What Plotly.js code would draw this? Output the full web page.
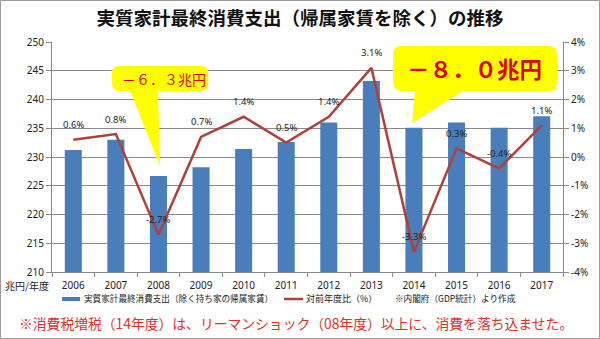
<!DOCTYPE html>
<html>
<head>
<meta charset="utf-8">
<script src="https://cdn.plot.ly/plotly-3.0.1.min.js"></script>
<style>
html,body{margin:0;padding:0;background:#fff;}
#chart{width:600px;height:339px;}
</style>
</head>
<body>
<div id="chart"></div>
<script>
// ---- data ----
var years = ['2006','2007','2008','2009','2010','2011','2012','2013','2014','2015','2016','2017'];
var consumption = [231.2, 233.0, 226.7, 228.2, 231.4, 232.6, 236.0, 243.2, 235.1, 236.0, 235.1, 237.1];
var yoyPct = [0.6, 0.8, -2.7, 0.7, 1.4, 0.5, 1.4, 3.1, -3.3, 0.3, -0.4, 1.1];
var yoyLabels = yoyPct.map(function(v){ return v.toFixed(1) + '%'; });
var leftTicks = [210, 215, 220, 225, 230, 235, 240, 245, 250];
var rightTicks = [-4, -3, -2, -1, 0, 1, 2, 3, 4];
var rightTickLabels = rightTicks.map(function(v){ return v + '%'; });

var titleText = '実質家計最終消費支出（帰属家賃を除く）の推移';
var seriesName1 = '実質家計最終消費支出（除く持ち家の帰属家賃）';
var seriesName2 = '対前年度比（%）';
var sourceText = '※内閣府（GDP統計）より作成';
var unitText = '兆円/年度';
var callout1Text = '－６．３兆円';
var callout2Text = '－８．０兆円';
var footText = '※消費税増税（14年度）は、リーマンショック（08年度）以上に、消費を落ち込ませた。';

// ---- layout helpers (pixel -> paper) ----
var L = 52, R = 563, T = 42, B = 272;
var W = R - L, H = B - T;
function px(x){ return (x - L) / W; }
function py(y){ return (B - y) / H; }
function P(x, y){ return px(x).toFixed(5) + ',' + py(y).toFixed(5); }

function callout(x0, y0, x1, y1, r, baseR, tipX, tipY, baseL){
  return 'M' + P(x0 + r, y0) +
    ' L' + P(x1 - r, y0) +
    ' Q' + P(x1, y0) + ' ' + P(x1, y0 + r) +
    ' L' + P(x1, y1 - r) +
    ' Q' + P(x1, y1) + ' ' + P(x1 - r, y1) +
    ' L' + P(baseR, y1) +
    ' L' + P(tipX, tipY) +
    ' L' + P(baseL, y1) +
    ' L' + P(x0 + r, y1) +
    ' Q' + P(x0, y1) + ' ' + P(x0, y1 - r) +
    ' L' + P(x0, y0 + r) +
    ' Q' + P(x0, y0) + ' ' + P(x0 + r, y0) + ' Z';
}

var jp = '"Noto Sans CJK JP", "Noto Sans", sans-serif';
var num = '"Noto Sans", "DejaVu Sans", sans-serif';

var traces = [
  {
    type: 'bar', x: years, y: consumption, name: seriesName1,
    marker: {color: '#4A7EBB'}, yaxis: 'y', showlegend: false,
    hoverinfo: 'skip'
  },
  {
    type: 'scatter', mode: 'lines', x: years, y: yoyPct, name: seriesName2,
    yaxis: 'y2', line: {color: '#B0403C', width: 2.5},
    showlegend: false, hoverinfo: 'skip'
  }
];

// data labels placed through the category axis (index) and right value axis
var dataLabels = years.map(function(yr, i){
  return {xref: 'x', yref: 'y2', x: i, y: yoyPct[i], text: yoyLabels[i], showarrow: false,
          xanchor: 'center', yanchor: 'middle', yshift: 15,
          font: {family: num, size: 9.5, color: '#222'}};
});

var layout = {
  width: 600, height: 339,
  margin: {l: L, r: 600 - R, t: T, b: 339 - B, pad: 0},
  paper_bgcolor: '#fff', plot_bgcolor: '#fff',
  bargap: 0.6,
  showlegend: false,
  title: {text: titleText, x: 0.5, xref: 'container', xanchor: 'center', y: 1 - 19/339, yanchor: 'middle',
          font: {family: jp, size: 18.5, color: '#111', weight: 700}},
  xaxis: {
    type: 'category', tickson: 'boundaries', ticks: 'outside', ticklen: 4, tickcolor: '#888',
    showline: true, linecolor: '#888', linewidth: 1, showgrid: false, ticklabelstandoff: 4,
    tickfont: {family: num, size: 10, color: '#222'}, fixedrange: true
  },
  yaxis: {
    range: [210, 250], tickvals: leftTicks, ticks: 'outside', ticklen: 5, tickcolor: '#888',
    showline: true, linecolor: '#888', linewidth: 1,
    showgrid: true, gridcolor: '#8a8a8a', gridwidth: 1, zeroline: false,
    tickfont: {family: num, size: 10, color: '#222'}, fixedrange: true
  },
  yaxis2: {
    range: [-4, 4], tickvals: rightTicks, ticktext: rightTickLabels, overlaying: 'y', side: 'right',
    ticks: 'outside', ticklen: 5, tickcolor: '#888',
    showline: true, linecolor: '#888', linewidth: 1, showgrid: false, zeroline: false,
    tickfont: {family: num, size: 10, color: '#222'}, fixedrange: true
  },
  shapes: [
    {type: 'path', xref: 'paper', yref: 'paper', layer: 'above',
     path: callout(112, 66, 208, 91, 7, 158, 160, 166, 130),
     fillcolor: '#FFFF00', line: {width: 0}},
    {type: 'path', xref: 'paper', yref: 'paper', layer: 'above',
     path: callout(393, 46, 557, 91, 9, 463, 412, 123, 415),
     fillcolor: '#FFFF00', line: {width: 0}},
    // legend markers
    {type: 'rect', xref: 'paper', yref: 'paper', x0: px(62), x1: px(80), y0: py(301), y1: py(297),
     fillcolor: '#4A7EBB', line: {width: 0}},
    {type: 'line', xref: 'paper', yref: 'paper', x0: px(284), x1: px(303), y0: py(299), y1: py(299),
     line: {color: '#B0403C', width: 2.5}},
    // outer frame
    {type: 'rect', xref: 'paper', yref: 'paper', x0: px(0.5), x1: px(599.5), y0: py(338.5), y1: py(0.5),
     line: {color: '#9a9a9a', width: 1}, fillcolor: 'rgba(0,0,0,0)'}
  ],
  annotations: dataLabels.concat([
    {xref: 'paper', yref: 'paper', x: px(164), y: py(79), text: callout1Text, showarrow: false,
     xanchor: 'center', yanchor: 'middle', font: {family: jp, size: 14, color: '#E00000'}},
    {xref: 'paper', yref: 'paper', x: px(474), y: py(68), text: callout2Text, showarrow: false,
     xanchor: 'center', yanchor: 'middle', font: {family: jp, size: 22.5, color: '#E00000', weight: 700}},
    {xref: 'paper', yref: 'paper', x: px(3), y: py(285), text: unitText, showarrow: false,
     xanchor: 'left', yanchor: 'middle', font: {family: jp, size: 10, color: '#222'}},
    {xref: 'paper', yref: 'paper', x: px(82), y: py(298), text: seriesName1, showarrow: false,
     xanchor: 'left', yanchor: 'middle', font: {family: jp, size: 8.6, color: '#222'}},
    {xref: 'paper', yref: 'paper', x: px(304), y: py(298), text: seriesName2, showarrow: false,
     xanchor: 'left', yanchor: 'middle', font: {family: jp, size: 9, color: '#222'}},
    {xref: 'paper', yref: 'paper', x: px(393), y: py(298), text: sourceText, showarrow: false,
     xanchor: 'left', yanchor: 'middle', font: {family: jp, size: 8.6, color: '#222'}},
    {xref: 'paper', yref: 'paper', x: px(17), y: py(323), text: footText, showarrow: false,
     xanchor: 'left', yanchor: 'middle', font: {family: jp, size: 13.8, color: '#E0302A'}}
  ])
};

Plotly.newPlot('chart', traces, layout, {displayModeBar: false, staticPlot: true});
</script>
</body>
</html>
